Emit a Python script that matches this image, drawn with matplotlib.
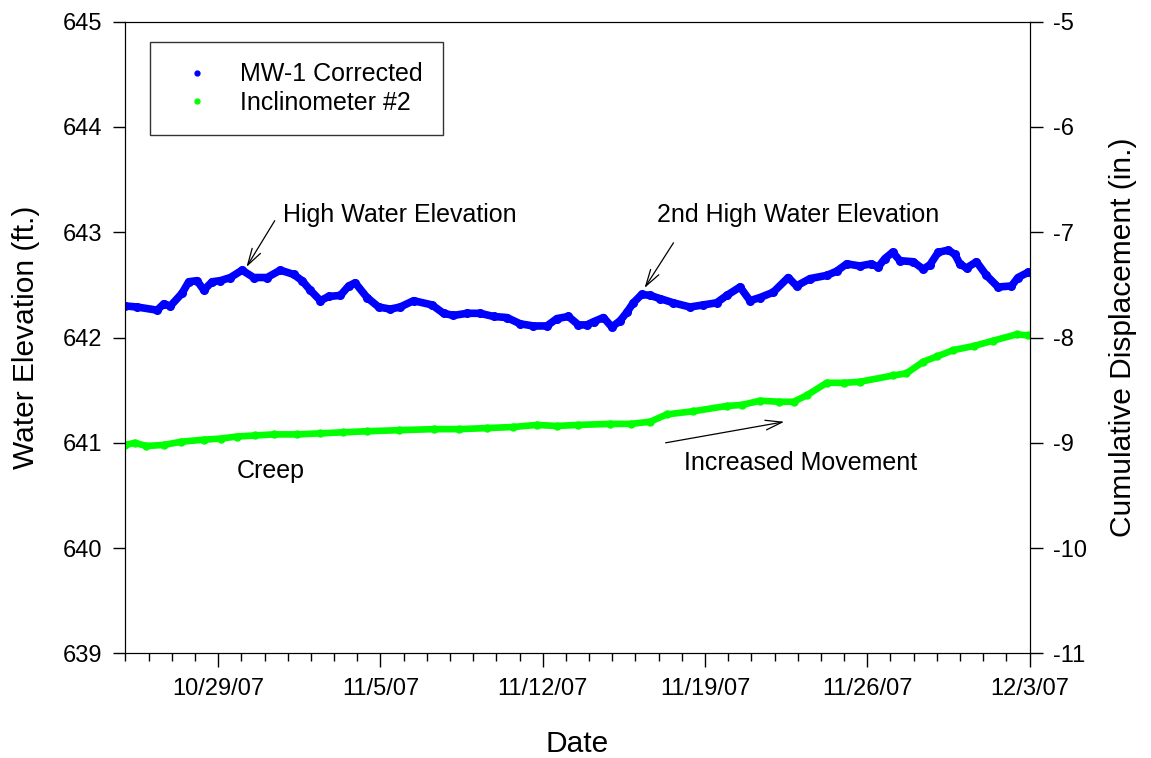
import pandas as pd
import matplotlib.pyplot as plt
from matplotlib.lines import Line2D

plt.rcParams['font.family'] = ['Liberation Sans', 'DejaVu Sans']
plt.rcParams['axes.unicode_minus'] = False

# Readings as days after 10/25/07
start = pd.Timestamp('2007-10-25')

mw1_days = [0.00, 0.50, 1.37, 1.65, 1.94, 2.44, 2.73, 3.09, 3.38, 3.74, 4.09, 4.53,
            5.03, 5.53, 6.11, 6.68, 7.25, 7.62, 7.97, 8.41, 8.76, 9.27, 9.63, 9.91,
            10.42, 10.92, 11.42, 11.85, 12.43, 13.22, 13.72, 14.15, 14.73, 15.30,
            15.88, 16.45, 17.03, 17.60, 18.18, 18.61, 19.11, 19.54, 19.90, 20.19,
            20.62, 20.98, 21.34, 21.63, 21.91, 22.27, 22.63, 23.06, 23.63, 24.35,
            24.93, 25.50, 25.94, 26.51, 26.94, 27.37, 27.94, 28.59, 28.95, 29.53,
            30.25, 30.68, 31.11, 31.68, 32.18, 32.47, 32.76, 33.09, 33.41, 33.98,
            34.41, 34.70, 35.06, 35.49, 35.78, 35.99, 36.28, 36.71, 37.14, 37.64,
            38.22, 38.50, 38.94]
mw1_elev = [642.30, 642.29, 642.26, 642.32, 642.30, 642.42, 642.53, 642.54, 642.45,
            642.53, 642.54, 642.57, 642.64, 642.57, 642.57, 642.64, 642.60, 642.54,
            642.45, 642.35, 642.39, 642.40, 642.49, 642.52, 642.38, 642.29, 642.27,
            642.29, 642.35, 642.31, 642.23, 642.21, 642.23, 642.23, 642.20, 642.19,
            642.13, 642.11, 642.11, 642.18, 642.20, 642.12, 642.12, 642.15, 642.19,
            642.10, 642.16, 642.24, 642.33, 642.41, 642.40, 642.37, 642.33, 642.29,
            642.31, 642.33, 642.40, 642.48, 642.35, 642.38, 642.43, 642.57, 642.49,
            642.56, 642.59, 642.63, 642.70, 642.68, 642.70, 642.67, 642.75, 642.81,
            642.73, 642.72, 642.65, 642.69, 642.81, 642.83, 642.79, 642.70, 642.66,
            642.72, 642.59, 642.48, 642.49, 642.57, 642.62]

incl_days = [0.00, 0.40, 0.90, 1.65, 2.40, 3.38, 4.10, 4.82, 5.60, 6.39, 7.40, 8.41,
             9.40, 10.42, 11.80, 13.29, 14.40, 15.59, 16.70, 17.75, 18.60, 19.54,
             20.91, 21.80, 22.63, 23.35, 24.50, 25.94, 26.60, 27.37, 28.20, 28.82,
             29.38, 30.25, 31.00, 31.68, 33.12, 33.69, 34.41, 35.00, 35.70, 36.60,
             37.43, 38.44, 38.94]
incl_disp = [-9.02, -9.00, -9.03, -9.02, -8.99, -8.97, -8.96, -8.94, -8.93, -8.92,
             -8.92, -8.91, -8.90, -8.89, -8.88, -8.87, -8.87, -8.86, -8.85, -8.83,
             -8.84, -8.83, -8.82, -8.82, -8.80, -8.73, -8.70, -8.65, -8.64, -8.60,
             -8.61, -8.61, -8.55, -8.43, -8.43, -8.42, -8.36, -8.34, -8.23, -8.18,
             -8.12, -8.08, -8.03, -7.97, -7.98]

tick_labels = ['10/29/07', '11/5/07', '11/12/07', '11/19/07', '11/26/07', '12/3/07']

mw1_dates = start + pd.to_timedelta(mw1_days, unit='D')
incl_dates = start + pd.to_timedelta(incl_days, unit='D')
blue = '#0000ff'
green = '#00ff00'

fig = plt.figure(figsize=(11.51, 7.58), dpi=100)
ax = fig.add_axes([0.109, 0.138, 0.7855, 0.8334])
ax2 = ax.twinx()

ax.plot(mw1_dates, mw1_elev, color=blue, lw=5.5, marker='o', ms=5.5,
        solid_capstyle='round', solid_joinstyle='round')
ax2.plot(incl_dates, incl_disp, color=green, lw=4.8, marker='o', ms=5,
         solid_capstyle='round', solid_joinstyle='round')

ax.set_xlim(start, start + pd.Timedelta(days=39))
ax.set_ylim(639, 645)
ax2.set_ylim(-11, -5)

ax.set_xticks(pd.date_range('2007-10-29', periods=len(tick_labels), freq='7D'))
ax.set_xticklabels(tick_labels)
ax.set_xticks(pd.date_range(start, periods=40, freq='D'), minor=True)
ax.set_yticks(range(639, 646))
ax2.set_yticks(range(-11, -4))

ax.tick_params(axis='x', which='major', direction='out', length=10, width=1,
               labelsize=17, pad=8)
ax.tick_params(axis='x', which='minor', direction='out', length=6, width=1)
ax.tick_params(axis='y', direction='out', length=9, width=1, labelsize=17, pad=8)
ax2.tick_params(axis='y', direction='out', length=9, width=1, labelsize=17, pad=8)

ax.set_xlabel('Date', fontsize=21.5, labelpad=21)
ax.set_ylabel('Water Elevation (ft.)', fontsize=21.5, labelpad=16)
ax2.set_ylabel('Cumulative Displacement (in.)', fontsize=21.5, labelpad=16)

# annotations
arrow = dict(arrowstyle='->,head_length=1.2,head_width=0.35', color='black', lw=0.9,
             shrinkA=0, shrinkB=0)
d = lambda x: start + pd.Timedelta(days=x)
ax.annotate('', xy=(d(5.22), 642.67), xytext=(d(6.44), 643.11), arrowprops=arrow)
ax.text(d(6.79), 643.16, 'High Water Elevation', fontsize=18, va='center', ha='left')
ax.annotate('', xy=(d(22.39), 642.47), xytext=(d(23.64), 642.90), arrowprops=arrow)
ax.text(d(22.91), 643.16, '2nd High Water Elevation', fontsize=18, va='center', ha='left')
ax.text(d(6.28), 640.73, 'Creep', fontsize=18, va='center', ha='center')
ax.annotate('', xy=(d(28.42), 641.20), xytext=(d(23.30), 641.00), arrowprops=arrow)
ax.text(d(29.12), 640.81, 'Increased Movement', fontsize=18, va='center', ha='center')

handles = [Line2D([], [], ls='none', marker='o', ms=3.5, color=blue),
           Line2D([], [], ls='none', marker='o', ms=3.5, color=green)]
leg = ax.legend(handles, ['MW-1 Corrected', 'Inclinometer #2'], loc='upper left',
                bbox_to_anchor=(0.027, 0.968), borderaxespad=0, fontsize=18,
                frameon=True, fancybox=False, handletextpad=0.66, borderpad=0.82,
                labelspacing=0.17, handlelength=2.11)
leg.get_frame().set_edgecolor('black')
leg.get_frame().set_linewidth(1)

fig.savefig('out.png', dpi=100)
